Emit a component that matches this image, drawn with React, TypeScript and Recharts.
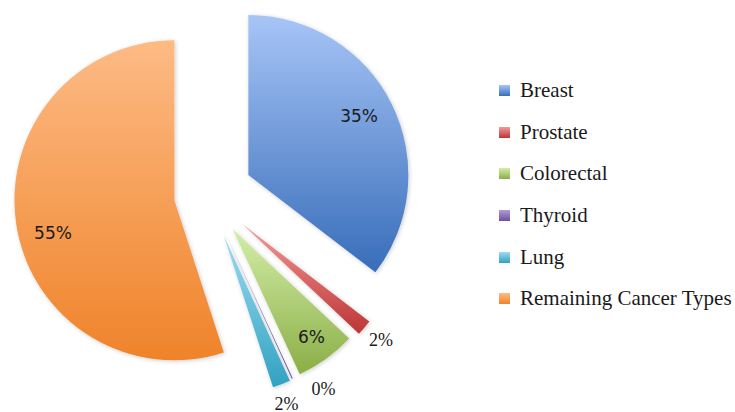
import React from "react";
import { PieChart, Pie, Cell, Sector, Legend } from "recharts";

const categories = [
  "Breast",
  "Prostate",
  "Colorectal",
  "Thyroid",
  "Lung",
  "Remaining Cancer Types",
];
const shares = [35.4, 1.6, 6.1, 0.1, 1.8, 55.0];

// how far each slice is pulled out from the centre, and label nudges
const explode = [45, 45, 42, 42, 43, 34];
const labelNudge = [
  [-4, -2],
  [0, -2],
  [4, 4],
  [22, -10],
  [-3, -1],
  [5, 13],
];
const topColors = ["#a7c5f7", "#f39a9a", "#d3eea8", "#b09bd6", "#9cdcf1", "#fdbb85"];
const bottomColors = ["#386db9", "#bd3535", "#8bae46", "#70519c", "#31a2c1", "#ef832a"];

const data = categories.map((name, i) => ({ name, value: shares[i] }));

const RADIAN = Math.PI / 180;

function ExplodedSlice(props: any) {
  const { cx, cy, midAngle, startAngle, endAngle, outerRadius, percent, index } = props;
  const off = explode[index];
  const ox = cx + off * Math.cos(-midAngle * RADIAN);
  const oy = cy + off * Math.sin(-midAngle * RADIAN);
  const inside = percent > 0.05;
  const lr = inside ? outerRadius * 0.8 : outerRadius + 22;
  const lx = ox + lr * Math.cos(-midAngle * RADIAN) + labelNudge[index][0];
  const ly = oy + lr * Math.sin(-midAngle * RADIAN) + labelNudge[index][1];
  return (
    <g>
      <Sector
        cx={ox}
        cy={oy}
        innerRadius={0}
        outerRadius={outerRadius}
        startAngle={startAngle}
        endAngle={endAngle}
        fill={`url(#slice${index})`}
        stroke="none"
        filter="url(#shadow)"
      />
      <text
        x={lx}
        y={ly}
        textAnchor="middle"
        dominantBaseline="central"
        fill="#1a1a1a"
        fontSize={inside ? 17 : 18}
        fontFamily={inside ? "DejaVu Sans" : "Liberation Serif"}
      >
        {Math.round(percent * 100)}%
      </text>
    </g>
  );
}

function LegendList() {
  return (
    <div style={{ fontFamily: "Liberation Serif", fontSize: 21, color: "#1a1a1a" }}>
      {categories.map((name, i) => (
        <div key={name} style={{ height: 41.6, display: "flex", alignItems: "center" }}>
          <span
            style={{
              width: 11,
              height: 11,
              marginRight: 10,
              background: `linear-gradient(${topColors[i]}, ${bottomColors[i]})`,
            }}
          />
          <span>{name}</span>
        </div>
      ))}
    </div>
  );
}

export default function App() {
  return (
    <div style={{ position: "absolute", left: 0, top: 0, background: "#fff" }}>
      <PieChart width={735} height={412} margin={{ top: 0, right: 0, bottom: 0, left: 0 }}>
        <defs>
          {categories.map((c, i) => (
            <linearGradient key={c} id={`slice${i}`} x1="0" y1="0" x2="0" y2="1">
              <stop offset="0%" stopColor={topColors[i]} />
              <stop offset="100%" stopColor={bottomColors[i]} />
            </linearGradient>
          ))}
          <filter id="shadow" x="-20%" y="-20%" width="140%" height="140%">
            <feDropShadow dx="1" dy="1" stdDeviation="2" floodColor="#000" floodOpacity="0.2" />
          </filter>
        </defs>
        <Pie
          data={data}
          dataKey="value"
          nameKey="name"
          cx={208}
          cy={195}
          outerRadius={160}
          startAngle={90}
          endAngle={-270}
          label={ExplodedSlice}
          labelLine={false}
          isAnimationActive={false}
        >
          {data.map((d) => (
            <Cell key={d.name} fill="none" stroke="none" />
          ))}
        </Pie>
        <Legend
          layout="vertical"
          align="right"
          verticalAlign="top"
          wrapperStyle={{ left: 499, top: 70, width: 236 }}
          content={() => <LegendList />}
        />
      </PieChart>
    </div>
  );
}
